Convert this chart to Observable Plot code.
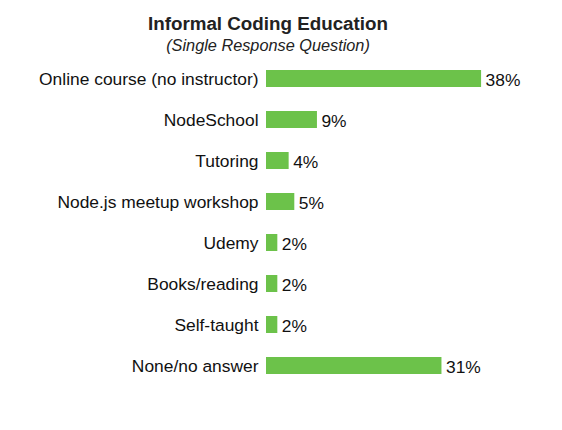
<!DOCTYPE html>
<html>
<head>
<meta charset="utf-8">
<script src="https://cdn.jsdelivr.net/npm/d3@7"></script>
<script src="https://cdn.jsdelivr.net/npm/@observablehq/plot@0.6"></script>
<style>
  html, body { margin: 0; padding: 0; background: #fff; }
  body { width: 562px; height: 430px; overflow: hidden; font-family: "Liberation Sans", Arial, sans-serif; }
  #head { height: 58px; width: 536px; text-align: center; position: relative; }
  #title { position: absolute; left: 0; right: 0; top: 13px; font-size: 18.8px; font-weight: bold; color: #222; }
  #subtitle { position: absolute; left: 0; right: 0; top: 36px; font-size: 16.3px; font-style: italic; color: #222; }
</style>
</head>
<body>
<div id="head">
  <div id="title">Informal Coding Education</div>
  <div id="subtitle">(Single Response Question)</div>
</div>
<div id="chart"></div>
<script>
const categories = [
  "Online course (no instructor)",
  "NodeSchool",
  "Tutoring",
  "Node.js meetup workshop",
  "Udemy",
  "Books/reading",
  "Self-taught",
  "None/no answer"
];
const values = [38, 9, 4, 5, 2, 2, 2, 31];
const valueLabels = ["38%", "9%", "4%", "5%", "2%", "2%", "2%", "31%"];

const data = categories.map((c, i) => ({category: c, value: values[i], label: valueLabels[i]}));

const chart = Plot.plot({
  width: 562,
  height: 372,
  marginTop: 0,
  marginBottom: 44,
  marginLeft: 266,
  marginRight: 13,
  style: {fontFamily: "'Liberation Sans', Arial, sans-serif", fontSize: "17.4px", color: "#111", background: "#fff"},
  x: {domain: [0, 50], axis: null},
  y: {domain: categories, padding: 0, label: null, tickSize: 0, tickPadding: 8},
  marks: [
    Plot.barX(data, {x: "value", y: "category", fill: "#6cc24a", insetTop: 12, insetBottom: 12}),
    Plot.text(data, {x: "value", y: "category", text: "label", textAnchor: "start", dx: 4, dy: 1, fontSize: 17.4, fill: "#111"})
  ]
});
document.getElementById("chart").appendChild(chart);
</script>
</body>
</html>
